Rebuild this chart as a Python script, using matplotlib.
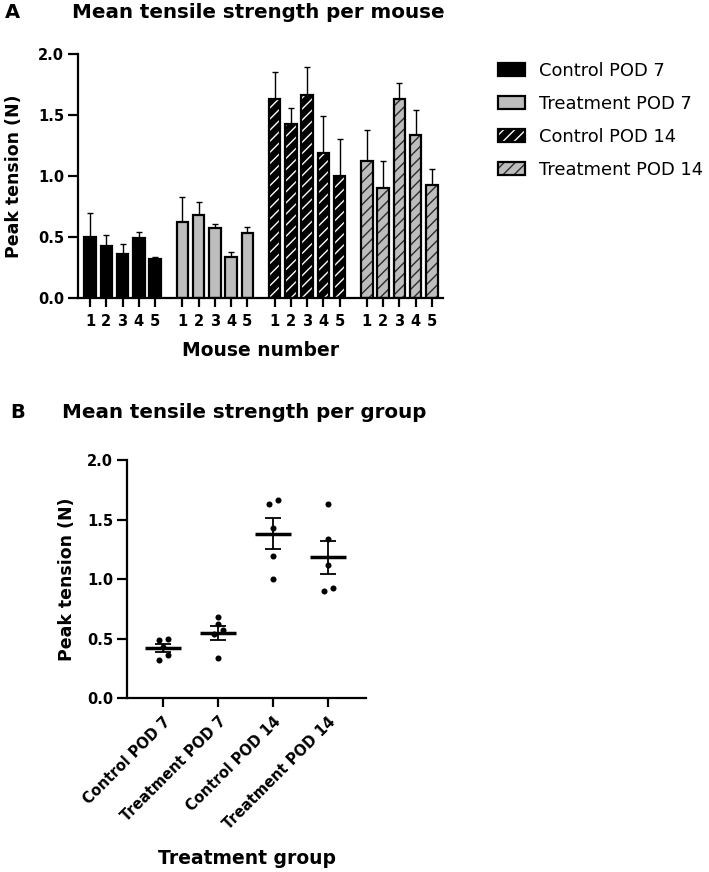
import matplotlib
matplotlib.use('Agg')
import matplotlib.pyplot as plt
from matplotlib.patches import Patch
from matplotlib.legend_handler import HandlerTuple
import numpy as np

plt.rcParams['font.family'] = 'DejaVu Sans'
plt.rcParams['font.weight'] = 'bold'
plt.rcParams['axes.labelweight'] = 'bold'
plt.rcParams['hatch.linewidth'] = 1.0

# ---------------------------------------------------------------- data
groups = ['Control POD 7', 'Treatment POD 7', 'Control POD 14', 'Treatment POD 14']
mice = ['1', '2', '3', '4', '5']

# mean peak tension per mouse (N)
ctrl7 = [0.50, 0.43, 0.36, 0.49, 0.32]
treat7 = [0.62, 0.68, 0.57, 0.34, 0.535]
ctrl14 = [1.63, 1.43, 1.66, 1.19, 1.00]
treat14 = [1.12, 0.90, 1.63, 1.34, 0.925]

# upper error bar per mouse (SD)
ctrl7_sd = [0.20, 0.09, 0.08, 0.05, 0.015]
treat7_sd = [0.21, 0.11, 0.04, 0.04, 0.05]
ctrl14_sd = [0.225, 0.13, 0.23, 0.30, 0.30]
treat14_sd = [0.26, 0.22, 0.135, 0.20, 0.13]

yticks = [0.0, 0.5, 1.0, 1.5, 2.0]

# ---------------------------------------------------------------- styles
FACE = ['black', '#BDBDBD', 'black', '#BDBDBD']
HATCH = [None, None, '///', '///']
HATCH_COL = ['black', 'black', 'white', '#2b2b2b']
GROUP_STEP = 5.67
BW = 0.7
LW = 1.6

means = [ctrl7, treat7, ctrl14, treat14]
sds = [ctrl7_sd, treat7_sd, ctrl14_sd, treat14_sd]

W, H = 709, 872
fig = plt.figure(figsize=(W / 100, H / 100), dpi=100, facecolor='white')


def px_axes(l, t, r, b):
    return fig.add_axes([l / W, 1 - b / H, (r - l) / W, (b - t) / H])


def style_ax(ax):
    for s in ['top', 'right']:
        ax.spines[s].set_visible(False)
    for s in ['left', 'bottom']:
        ax.spines[s].set_linewidth(LW)
    ax.tick_params(axis='both', direction='out', width=LW, labelsize=10.5)
    ax.tick_params(axis='y', length=7, pad=3)
    ax.set_ylim(0, 2.0)
    ax.set_yticks(yticks)
    ax.set_yticklabels([f'{v:.1f}' for v in yticks])


# ---------------------------------------------------------------- panel A
ax1 = px_axes(78, 54, 443, 298)
style_ax(ax1)

xt, xl = [], []
for g in range(4):
    x = g * GROUP_STEP + np.arange(len(mice))
    v = np.array(means[g])
    ax1.errorbar(x, v, yerr=[np.zeros(len(v)), sds[g]], fmt='none',
                 ecolor='black', elinewidth=1.0, capsize=2.5, capthick=1.0,
                 zorder=1)
    ax1.bar(x, v, width=BW, color=FACE[g], edgecolor=HATCH_COL[g],
            hatch=HATCH[g], linewidth=0, zorder=2)
    ax1.bar(x, v, width=BW, fill=False, edgecolor='black', linewidth=LW,
            zorder=3)
    xt.extend(x)
    xl.extend(mice)

ax1.set_xticks(xt)
ax1.set_xticklabels(xl)
ax1.tick_params(axis='x', length=6.5, pad=5)
ax1.set_xlim(-0.74, 3 * GROUP_STEP + 4 + 0.68)
ax1.set_ylabel('Peak tension (N)', fontsize=12.5)
ax1.yaxis.set_label_coords(-0.15, 0.5)
ax1.set_xlabel('Mouse number', fontsize=13.5)
ax1.xaxis.set_label_coords(0.5, -0.175)

handles = []
for g in range(4):
    handles.append((Patch(facecolor=FACE[g], edgecolor=HATCH_COL[g],
                          hatch=HATCH[g], linewidth=0),
                    Patch(fill=False, edgecolor='black', linewidth=LW)))
fig.legend(handles, groups, handler_map={tuple: HandlerTuple(ndivide=1, pad=0)},
           loc='upper left', bbox_to_anchor=(498 / W, 1 - 62 / H),
           frameon=False, borderpad=0, borderaxespad=0,
           handlelength=1.5, handleheight=0.7, handletextpad=0.8,
           labelspacing=0.83, prop={'family': 'DejaVu Sans', 'weight': 'normal', 'size': 12.9})

fig.text(12 / W, 1 - 13 / H, 'A', fontsize=14, ha='center', va='center')
fig.text(72 / W, 1 - 12 / H, 'Mean tensile strength per mouse', fontsize=14.3,
         ha='left', va='center')

# ---------------------------------------------------------------- panel B
ax2 = px_axes(127, 460, 366, 698)
style_ax(ax2)


def swarm_offsets(vals, thresh=0.045, step=0.164):
    order = np.argsort(vals)
    off = np.zeros(len(vals))
    clusters = [[order[0]]]
    for i in order[1:]:
        if vals[i] - vals[clusters[-1][-1]] < thresh:
            clusters[-1].append(i)
        else:
            clusters.append([i])
    for c in clusters:
        n = len(c)
        for k, i in enumerate(c):
            off[i] = (k - (n - 1) / 2) * step
    return off


for g in range(4):
    v = np.array(means[g])
    m = v.mean()
    sem = v.std(ddof=1) / np.sqrt(len(v))
    ax2.scatter(g + swarm_offsets(v), v, s=19, color='black', zorder=3,
                linewidths=0)
    ax2.hlines(m, g - 0.33, g + 0.33, color='black', linewidth=2.5, zorder=4)
    ax2.errorbar(g, m, yerr=sem, fmt='none', ecolor='black', elinewidth=1.3,
                 capsize=5.8, capthick=1.3, zorder=4)

ax2.set_xticks(range(4))
ax2.set_xticklabels(groups, rotation=45, ha='right', rotation_mode='anchor')
ax2.tick_params(axis='x', length=6.5, pad=5)
ax2.set_xlim(-0.655, 3.69)
ax2.set_ylabel('Peak tension (N)', fontsize=12.5)
ax2.yaxis.set_label_coords(-0.215, 0.5)
ax2.set_xlabel('Treatment group', fontsize=13.5)
ax2.xaxis.set_label_coords(0.5, -0.635)

fig.text(18 / W, 1 - 412 / H, 'B', fontsize=14, ha='center', va='center')
fig.text(62 / W, 1 - 412 / H, 'Mean tensile strength per group', fontsize=14.3,
         ha='left', va='center')

fig.savefig('out.png', dpi=100, facecolor='white')
